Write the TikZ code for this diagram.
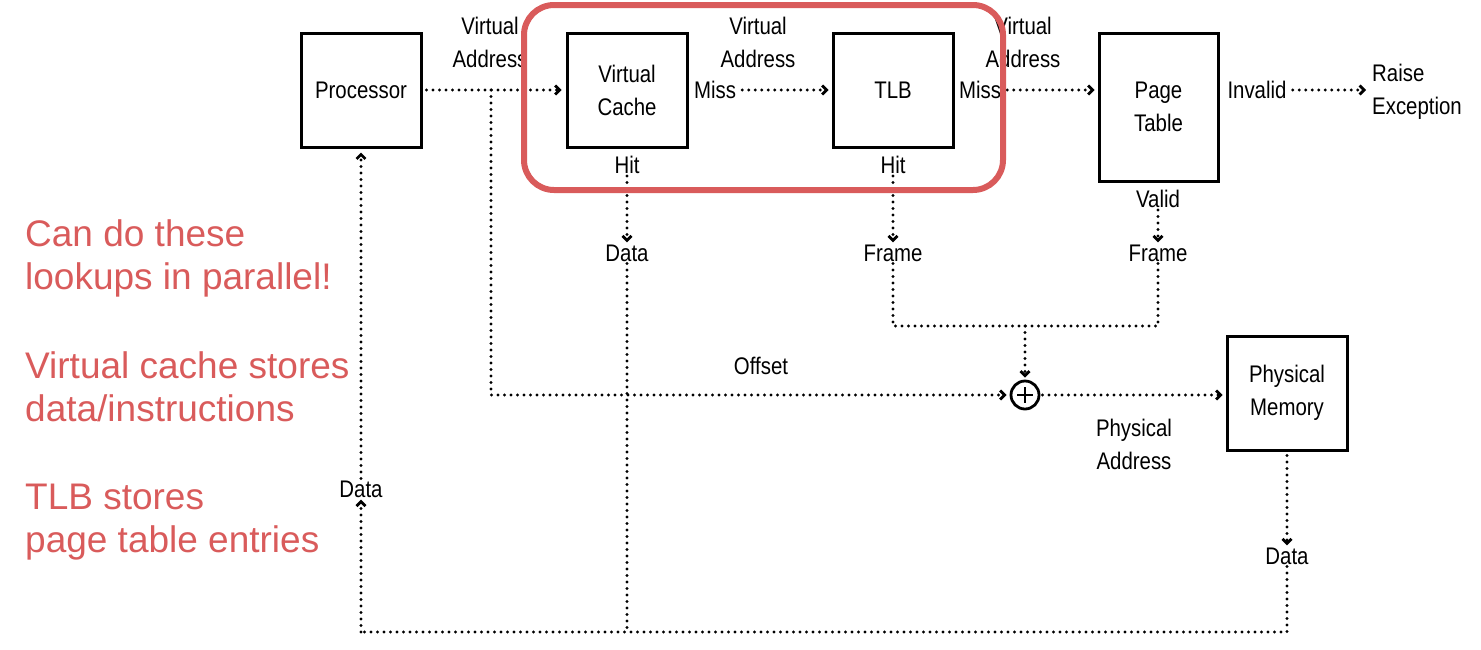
\documentclass[tikz,border=0pt]{standalone}
\usepackage{fontspec}
\setmainfont{Liberation Sans}
\newfontfamily\narrowfont[FakeStretch=0.85]{Liberation Sans}
\usetikzlibrary{arrows.meta}
\definecolor{redc}{RGB}{217,91,91}
\begin{document}
\begin{tikzpicture}[x=1pt,y=-1pt,
  box/.style={draw, line width=3pt, inner sep=0pt, font=\narrowfont\fontsize{24}{33}\selectfont, align=center},
  lbl/.style={inner sep=2pt, font=\narrowfont\fontsize{24}{33}\selectfont, align=center},
  dl/.style={line width=3.2pt, line cap=round, dash pattern=on 0pt off 6.5pt},
  arr/.style={dl, -{Straight Barb[length=4.5pt,width=9pt,line width=2.8pt]}},
  note/.style={text=redc, font=\fontsize{37}{43}\selectfont, anchor=base west, inner sep=0pt}]
\useasboundingbox (0,0) rectangle (1481,649);

% boxes
\node[box, minimum width=120pt, minimum height=114pt] (proc) at (361,90) {Processor};
\node[box, minimum width=120pt, minimum height=114pt] (vc) at (627,90) {Virtual\\Cache};
\node[box, minimum width=120pt, minimum height=114pt] (tlb) at (893,90) {TLB};
\node[box, minimum width=119pt, minimum height=148pt] (pt) at (1158.5,107) {Page\\Table};
\node[box, minimum width=120pt, minimum height=114pt] (pm) at (1287,393) {Physical\\Memory};
\node[draw, circle, line width=2.8pt, minimum size=28pt, inner sep=0pt] (plus) at (1025,395) {};
\draw[line width=2.8pt] (plus.center) +(-8,0) -- +(8,0);
\draw[line width=2.8pt] (plus.center) +(0,-8) -- +(0,8);

% labels
\node[lbl] (va1) at (490,42) {Virtual\\Address};
\node[lbl] (va2) at (758,42) {Virtual\\Address};
\node[lbl] (va3) at (1023,42) {Virtual\\Address};
\node[lbl] (miss1) at (715,90) {Miss};
\node[lbl] (miss2) at (980,90) {Miss};
\node[lbl] (invalid) at (1257,90) {Invalid};
\node[lbl, align=left, anchor=west] (raise) at (1370,92) {Raise\\Exception};
\node[lbl] (hit1) at (627,165) {Hit};
\node[lbl] (hit2) at (893,165) {Hit};
\node[lbl] (valid) at (1158,199) {Valid};
\node[lbl] (data1) at (627,253) {Data};
\node[lbl] (frame1) at (893,253) {Frame};
\node[lbl] (frame2) at (1158,253) {Frame};
\node[lbl] (offset) at (761,366) {Offset};
\node[lbl] (pa) at (1134,444) {Physical\\Address};
\node[lbl] (data3) at (1287,556) {Data};
\node[lbl] (data4) at (361,489) {Data};

\coordinate (br) at (491,90);
\coordinate (j1) at (627,632);
\coordinate (fj) at (1025,326);
\coordinate (bl) at (361,632);

% connectors
\draw[arr, shorten <=4pt, shorten >=4pt] (proc.east) -- (vc.west);
\draw[arr, shorten >=3pt] (br) |- (plus.west);
\draw[arr, shorten <=4pt, shorten >=3pt] (miss1.east) -- (tlb.west);
\draw[arr, shorten <=4pt, shorten >=3pt] (miss2.east) -- (miss2.east -| pt.west);
\draw[arr, shorten <=4pt, shorten >=4pt] (invalid.east) -- (invalid.east -| raise.west);
\draw[arr] (hit1) -- (data1);
\draw[arr] (hit2) -- (frame1);
\draw[arr] (valid) -- (frame2);
\draw[dl] (data1) -- (j1);
\draw[dl] (frame1) |- (fj);
\draw[dl] (frame2) |- (fj);
\draw[arr, shorten >=2pt] (fj) -- (plus);
\draw[arr, shorten <=2pt, shorten >=3pt] (plus.east) -- (plus.east -| pm.west);
\draw[arr, shorten <=4pt] (pm) -- (data3);
\draw[dl] (data3) |- (bl);
\draw[arr] (bl) -- (data4);
\draw[arr, shorten >=4pt] (data4) -- (proc);

% highlight
\draw[redc, line width=6pt, rounded corners=30pt] (524,5) rectangle (1003,190);

% notes
\node[note] (n1) at (25,246) {Can do these};
\node[note] (n2) at (25,289) {lookups in parallel!};
\node[note] (n3) at (25,378) {Virtual cache stores};
\node[note] (n4) at (25,421) {data/instructions};
\node[note] (n5) at (25,509) {TLB stores};
\node[note] (n6) at (25,552) {page table entries};
\end{tikzpicture}
\end{document}
